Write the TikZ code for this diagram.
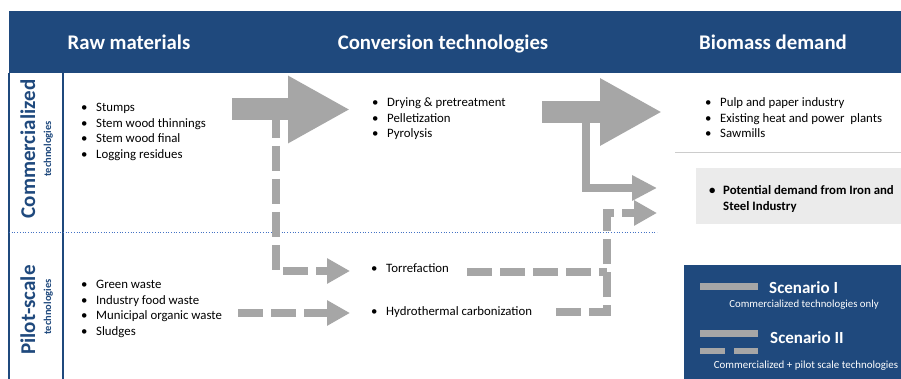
\documentclass[tikz,border=0pt]{standalone}
\usepackage{fontspec}
\setmainfont{Carlito}
\usetikzlibrary{arrows.meta}

\definecolor{navy}{HTML}{1F497D}
\definecolor{flowgray}{HTML}{A6A6A6}
\definecolor{divider}{HTML}{4472C4}
\definecolor{panel}{HTML}{EBEBEB}

% one bullet line of a list
\newcommand{\bitem}[1]{\strut\makebox[15pt][l]{\textbullet}#1}

\tikzset{
  colhead/.style={font=\fontsize{20.8}{24}\selectfont\bfseries, text=white, inner sep=0pt},
  rowhead/.style={font=\fontsize{21}{24}\selectfont\bfseries, text=navy, inner sep=0pt, rotate=90},
  rowsub/.style={font=\fontsize{10.5}{12}\selectfont\bfseries, text=navy, inner sep=0pt, rotate=90},
  itemlist/.style={font=\fontsize{12.8}{15.4}\selectfont, align=left, inner sep=0pt, anchor=north west},
  bigflow/.style={draw=flowgray, line width=22pt, -{Triangle[length=62pt,width=63pt]}},
  thinflow/.style={draw=flowgray, line width=8pt, -{Triangle[length=25pt,width=24pt]}},
  pilotflow/.style={draw=flowgray, line width=8pt, dash pattern=on 25pt off 8pt},
  pilotarrow/.style={pilotflow, -{Triangle[length=23pt,width=24pt]}},
}

\begin{document}
\begin{tikzpicture}[x=1pt, y=-1pt]
\useasboundingbox (0,0) rectangle (901,379);
\fill[white] (0,0) rectangle (901,379);

% header band and row frame
\fill[navy] (9,11) rectangle (901,73);
\draw[navy, line width=1.2pt] (9,73) -- (9,379) (63,73) -- (63,379);
\draw[divider, dotted, line width=0.7pt] (9,232) -- (657,232);

% column headings
\node[colhead, anchor=base] (hraw)  at (129,50) {Raw materials};
\node[colhead, anchor=base] (hconv) at (443,50) {Conversion technologies};
\node[colhead, anchor=base] (hdem)  at (773,50) {Biomass demand};

% row headings
\node[rowhead, anchor=base] (rcom) at (35,149) {Commercialized};
\node[rowsub,  anchor=base] (rcomsub) at (51,149) {technologies};
\node[rowhead, anchor=base] (rpil) at (35,310) {Pilot-scale};
\node[rowsub,  anchor=base] (rpilsub) at (51,307) {technologies};

% demand side panels
\draw[black!20, line width=0.8pt] (675,152) -- (901,152);
\fill[panel] (696,168) rectangle (901,224);
\fill[navy] (684,265) rectangle (901,379);

% lists
\node[itemlist] (rawcom) at (81,101) {\bitem{Stumps}\\ \bitem{Stem wood thinnings}\\ \bitem{Stem wood final}\\ \bitem{Logging residues}};
\node[itemlist] (convcom) at (372,96) {\bitem{Drying \& pretreatment}\\ \bitem{Pelletization}\\ \bitem{Pyrolysis}};
\node[itemlist] (demcom) at (705,96) {\bitem{Pulp and paper industry}\\ \bitem{Existing heat and power\ \ plants}\\ \bitem{Sawmills}};
\node[itemlist, font=\fontsize{12.8}{15.4}\selectfont\bfseries] (steel) at (709,184)
  {\strut\makebox[14pt][l]{\textbullet}Potential demand from Iron and\\ \strut\hspace{14pt}Steel Industry};
\node[itemlist] (rawpil) at (81,278) {\bitem{Green waste}\\ \bitem{Industry food waste}\\ \bitem{Municipal organic waste}\\ \bitem{Sludges}};
\node[itemlist] (torr) at (371,262) {\bitem{Torrefaction}};
\node[itemlist] (htc) at (371,305) {\bitem{Hydrothermal carbonization}};

% flow end points
\coordinate (a1s) at (232,109.5);
\coordinate (a1e) at (350,109.5);
\coordinate (a2s) at (542,112);
\coordinate (a2e) at (662,112);
\coordinate (b1s) at (586,123);
\coordinate (b1e) at (657,188);
\coordinate (c1s) at (276,120);
\coordinate (c1e) at (350,271);
\coordinate (c2s) at (238,313);
\coordinate (c2e) at (350,313);
\coordinate (c3s) at (467,272);
\coordinate (c3e) at (607,272);
\coordinate (c4s) at (556,312);
\coordinate (c4m) at (607,213);
\coordinate (c4e) at (657,213);

% commercialized flows
\draw[bigflow] (a1s) -- (a1e);
\draw[bigflow] (a2s) -- (a2e);
\draw[thinflow] (b1s) |- (b1e);

% pilot-scale flows
\draw[pilotarrow, dash phase=7pt] (c1s) |- (c1e);
\draw[pilotarrow] (c2s) -- (c2e);
\draw[pilotflow] (c3s) -- (c3e);
\draw[pilotarrow] (c4s) -| (c4m) -- (c4e);

% legend
\fill[flowgray] (700,283) rectangle (758,290);
\node[anchor=base west, font=\fontsize{17}{20}\selectfont\bfseries, text=white, inner sep=0pt] (sc1) at (769,293) {Scenario I};
\node[anchor=base, font=\fontsize{10.8}{12}\selectfont, text=white, inner sep=0pt] (sc1d) at (804,307) {Commercialized technologies only};
\fill[flowgray] (700,330) rectangle (758,337);
\fill[flowgray] (700,348) rectangle (725,354);
\fill[flowgray] (734,348) rectangle (758,354);
\node[anchor=base west, font=\fontsize{17}{20}\selectfont\bfseries, text=white, inner sep=0pt] (sc2) at (770,343) {Scenario II};
\node[anchor=base, font=\fontsize{10.9}{12}\selectfont, text=white, inner sep=0pt] (sc2d) at (806,368) {Commercialized + pilot scale technologies};
\end{tikzpicture}
\end{document}
